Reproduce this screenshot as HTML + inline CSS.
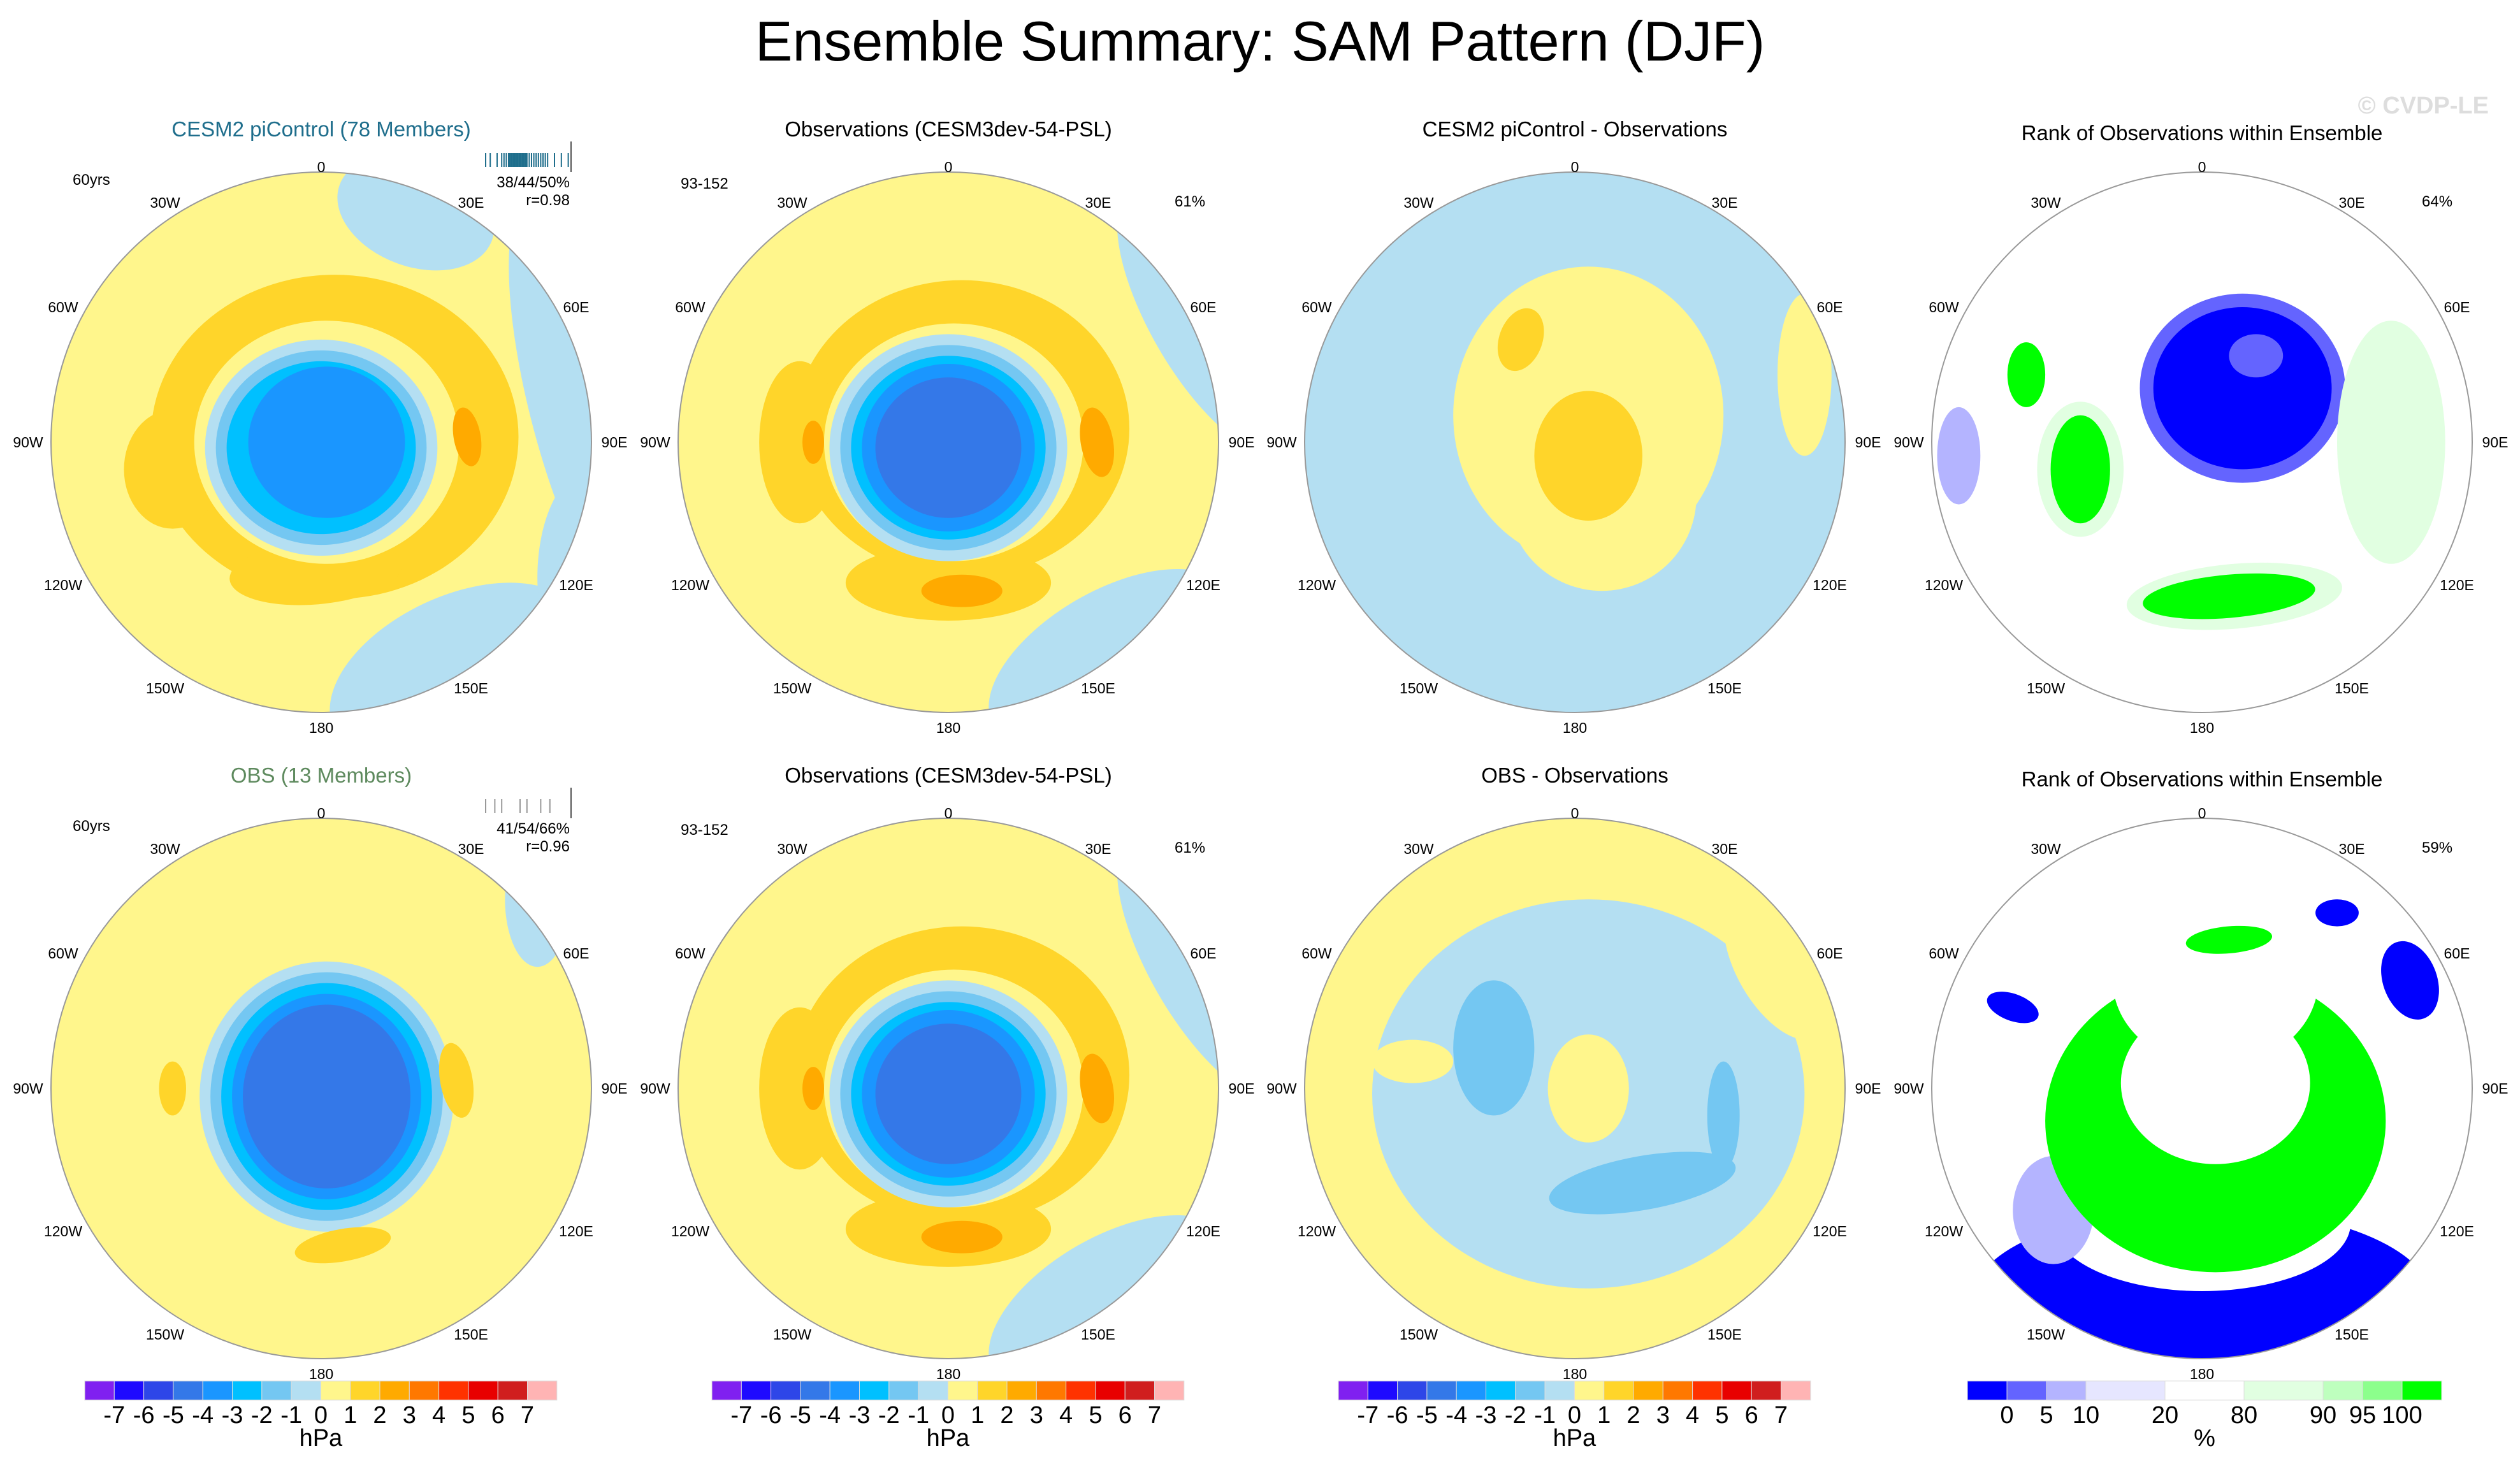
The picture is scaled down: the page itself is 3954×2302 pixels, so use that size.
<!DOCTYPE html>
<html><head><meta charset="utf-8"><style>
html,body{margin:0;padding:0;background:#fff;}
svg{display:block;font-family:"Liberation Sans",sans-serif;}
</style></head><body>
<svg id="fig" width="3954" height="2302" viewBox="0 0 3954 2302" xmlns="http://www.w3.org/2000/svg">
<text x="1977" y="95" font-size="88" text-anchor="middle">Ensemble Summary: SAM Pattern (DJF)</text>
<text x="3905" y="178" font-size="38" font-weight="bold" fill="#dddddd" text-anchor="end">© CVDP-LE</text>
<g id="panels"></g>
</svg>
<script>
// Colorbar data
const hpaColors = ["#8020F0","#1E0AFF","#2E46E8","#3478E8","#1A96FF","#00C0FF","#74C7F2","#B4DFF2","#FFF68C","#FFD52A","#FFAA00","#FF7800","#FF3200","#E80000","#D01E1E","#FFB4B4"];
const hpaLabels = ["-7","-6","-5","-4","-3","-2","-1","0","1","2","3","4","5","6","7"];
const rankColors = ["#0000FF","#6464FF","#B4B4FF","#E6E6FF","#FFFFFF","#E1FFE1","#BEFFBE","#8CFF8C","#00FF00"];
const rankWidths = [1,1,1,2,2,2,1,1,1];
const rankLabels = ["0","5","10","20","80","90","95","100"];
const lonLabels = ["0","30E","60E","90E","120E","150E","180","150W","120W","90W","60W","30W"];

const NS="http://www.w3.org/2000/svg";
const root=document.getElementById('panels');
const R=424;
const colX=[504,1488,2471,3455];
const rowY=[694,1708];
function el(tag,attrs,parent){const e=document.createElementNS(NS,tag);for(const k in attrs)e.setAttribute(k,attrs[k]);(parent||root).appendChild(e);return e;}
function txt(x,y,s,size,parent,anchor,fill){const t=el('text',{x:x,y:y,'font-size':size,'text-anchor':anchor||'middle',fill:fill||'#000'},parent);t.textContent=s;return t;}

const LY="#FFF68C",OR="#FFD52A",DO="#FFAA00",LB="#B4DFF2",MB="#74C7F2",CY="#00C0FF",BL="#1A96FF",DB="#3478E8",GR="#00FF00",LG="#E1FFE1",BL0="#0000FF",BL1="#6464FF",BL2="#B4B4FF";
// shapes: [cx,cy,rx,ry,color,rot] in unit-radius coords
const maps={
 cesm:{bg:LY,s:[[1.0,-0.1,0.22,0.85,LB,-15],[0.35,-0.85,0.3,0.2,LB,20],[0.5,0.85,0.5,0.28,LB,-25],[1.0,0.5,0.2,0.4,LB,0],
   [0.05,-0.02,0.68,0.6,OR,0],[-0.55,0.1,0.18,0.22,OR,0],[-0.02,0.48,0.32,0.12,OR,-5],[0.02,0.0,0.49,0.45,LY,0],
   [0.0,0.02,0.43,0.4,LB,0],[0.0,0.02,0.39,0.36,MB,0],[0.0,0.02,0.35,0.32,CY,0],[0.02,0.0,0.29,0.28,BL,0],[0.54,-0.02,0.05,0.11,DO,-10]]},
 obs:{bg:LY,s:[[0.95,-0.45,0.2,0.55,LB,-30],[0.6,0.8,0.5,0.25,LB,-30],
   [0.05,-0.05,0.62,0.55,OR,0],[-0.55,0.0,0.15,0.3,OR,0],[0.0,0.52,0.38,0.14,OR,0],[0.02,0.0,0.48,0.44,LY,0],
   [0.0,0.02,0.44,0.42,LB,0],[0.0,0.02,0.40,0.38,MB,0],[0.0,0.02,0.36,0.34,CY,0],[0.0,0.02,0.32,0.31,BL,0],[0.0,0.02,0.27,0.26,DB,0],
   [0.55,0.0,0.06,0.13,DO,-10],[0.05,0.55,0.15,0.06,DO,0],[-0.5,0.0,0.04,0.08,DO,0]]},
 diff1:{bg:LB,s:[[0.05,-0.1,0.5,0.55,LY,0],[0.1,0.2,0.35,0.35,LY,0],[0.85,-0.25,0.1,0.3,LY,0],[0.05,0.05,0.2,0.24,OR,0],[-0.2,-0.38,0.08,0.12,OR,20]]},
 rank1:{bg:"#FFFFFF",s:[[0.15,-0.2,0.38,0.35,BL1,0],[0.15,-0.2,0.33,0.3,BL0,0],[0.2,-0.32,0.1,0.08,BL1,0],[-0.45,0.1,0.16,0.25,LG,0],[-0.45,0.1,0.11,0.2,GR,0],[-0.65,-0.25,0.07,0.12,GR,0],
   [0.12,0.57,0.4,0.12,LG,-5],[0.1,0.57,0.32,0.08,GR,-5],[0.7,0.0,0.2,0.45,LG,0],[-0.9,0.05,0.08,0.18,BL2,0]]},
 obs2:{bg:LY,s:[[0.8,-0.7,0.12,0.25,LB,0],[0.02,0.03,0.47,0.5,LB,0],[0.02,0.03,0.43,0.46,MB,0],[0.02,0.03,0.39,0.42,CY,0],[0.02,0.03,0.35,0.38,BL,0],[0.02,0.03,0.31,0.34,DB,0],
   [0.5,-0.03,0.06,0.14,OR,-10],[-0.55,0.0,0.05,0.1,OR,0],[0.08,0.58,0.18,0.06,OR,-10]]},
 diff2:{bg:LY,s:[[0.05,0.02,0.8,0.72,LB,0],[-0.3,-0.15,0.15,0.25,MB,0],[0.25,0.35,0.35,0.1,MB,-10],[0.55,0.1,0.06,0.2,MB,0],[0.05,0.0,0.15,0.2,LY,0],[-0.6,-0.1,0.15,0.08,LY,0],[0.75,-0.45,0.15,0.3,LY,-30]]},
 rank2:{bg:"#FFFFFF",s:[[0.0,0.78,0.85,0.34,BL0,0],[0.0,0.5,0.55,0.25,"#FFFFFF",0],[-0.55,0.45,0.15,0.2,BL2,0],
   [0.05,0.12,0.63,0.56,GR,0],[0.05,-0.02,0.35,0.3,"#FFFFFF",0],[0.05,-0.4,0.38,0.32,"#FFFFFF",0],
   [0.1,-0.55,0.16,0.05,GR,-5],[0.77,-0.4,0.1,0.15,BL0,-20],[-0.7,-0.3,0.1,0.05,BL0,20],[0.5,-0.65,0.08,0.05,BL0,0]]}
};

function drawMap(id,cx,cy,map){
  const g=el('g',{},root);
  
  
  const cp=el('clipPath',{id:'cp'+id},g);
  el('circle',{cx:cx,cy:cy,r:R},cp);
  const inner=el('g',{'clip-path':'url(#cp'+id+')'},g);
  el('rect',{x:cx-R,y:cy-R,width:2*R,height:2*R,fill:map.bg},inner);
  map.s.forEach(s=>{el('ellipse',{cx:cx+s[0]*R,cy:cy+s[1]*R,rx:s[2]*R,ry:s[3]*R,fill:s[4],transform:`rotate(${s[5]} ${cx+s[0]*R} ${cy+s[1]*R})`},inner);});
  el('circle',{cx:cx,cy:cy,r:R,fill:'none',stroke:'#999',"stroke-width":2},g);
  const offs=[[0,-432],[235,-376],[400,-212],[460,0],[400,224],[235,386],[0,448],[-245,386],[-405,224],[-460,0],[-405,-212],[-245,-376]];
  lonLabels.forEach((l,i)=>{const t=txt(cx+offs[i][0],cy+offs[i][1]+8,l,23,g);
    
    });
}
function hpaBar(x0,y){
  const g=el('g',{},root);
  
  
  const w=46.3;
  hpaColors.forEach((c,i)=>{el('rect',{x:x0+i*w,y:y,width:w,height:30,fill:c,stroke:'#ddd','stroke-width':1},g);});
  hpaLabels.forEach((l,i)=>{txt(x0+(i+1)*w,y+66,l,38,g);});
  txt(x0+8*w,y+102,'hPa',38,g);
}
function rankBar(x0,y){
  const g=el('g',{},root);
  
  
  const u=62;let x=x0;
  rankColors.forEach((c,i)=>{el('rect',{x:x,y:y,width:rankWidths[i]*u,height:30,fill:c,stroke:'#ddd','stroke-width':1},g);x+=rankWidths[i]*u;if(i<rankLabels.length)txt(x,y+66,rankLabels[i],38,g);});
  txt(x0+6*u,y+102,'%',38,g);
}
const titles=[["CESM2 piControl (78 Members)","#1F6E8C"],["Observations (CESM3dev-54-PSL)","#000"],["CESM2 piControl - Observations","#000"],["Rank of Observations within Ensemble","#000"],
 ["OBS (13 Members)","#5E8A5E"],["Observations (CESM3dev-54-PSL)","#000"],["OBS - Observations","#000"],["Rank of Observations within Ensemble","#000"]];
const mapKeys=[["cesm","obs","diff1","rank1"],["obs2","obs","diff2","rank2"]];
for(let r=0;r<2;r++)for(let c=0;c<4;c++){
  const cx=colX[c],cy=rowY[r];
  drawMap('p'+r+c,cx,cy,maps[mapKeys[r][c]]);
  const t=txt(cx,cy-(c==3?474:480),titles[r*4+c][0],33,root,'middle',titles[r*4+c][1]);
  
  
}
txt(colX[0]-390,rowY[0]-404,'60yrs',24,root,'start');
txt(colX[0]-390,rowY[1]-404,'60yrs',24,root,'start');
txt(colX[1]-420,rowY[0]-398,'93-152',24,root,'start');
txt(colX[1]-420,rowY[1]-398,'93-152',24,root,'start');
txt(colX[1]+355,rowY[0]-370,'61%',24,root,'start');
txt(colX[1]+355,rowY[1]-370,'61%',24,root,'start');
txt(colX[3]+345,rowY[0]-370,'64%',24,root,'start');
txt(colX[3]+345,rowY[1]-370,'59%',24,root,'start');
txt(colX[0]+390,rowY[0]-400,'38/44/50%',24,root,'end');
txt(colX[0]+390,rowY[0]-372,'r=0.98',24,root,'end');
txt(colX[0]+390,rowY[1]-400,'41/54/66%',24,root,'end');
txt(colX[0]+390,rowY[1]-372,'r=0.96',24,root,'end');
const hist1=[0,4,10,14,16,18,20,21,22,23,24,25,26,27,28,29,30,31,32,33,34,35,36,38,40,42,44,46,48,50,52,54,60,66,72];
const hist2=[0,8,14,30,36,48,56];
function hist(vals,x0,y0,col){vals.forEach(v=>{el('line',{x1:x0+v*1.8,x2:x0+v*1.8,y1:y0,y2:y0+22,stroke:col,'stroke-width':2});});
  el('line',{x1:x0+134,x2:x0+134,y1:y0-18,y2:y0+30,stroke:'#555','stroke-width':2});}
hist(hist1,colX[0]+258,rowY[0]-454,'#1F6E8C');
hist(hist2,colX[0]+258,rowY[1]-454,'#999');
for(let c=0;c<3;c++)hpaBar(colX[c]-371,2167);
rankBar(3087,2167);
</script>
</body></html>
